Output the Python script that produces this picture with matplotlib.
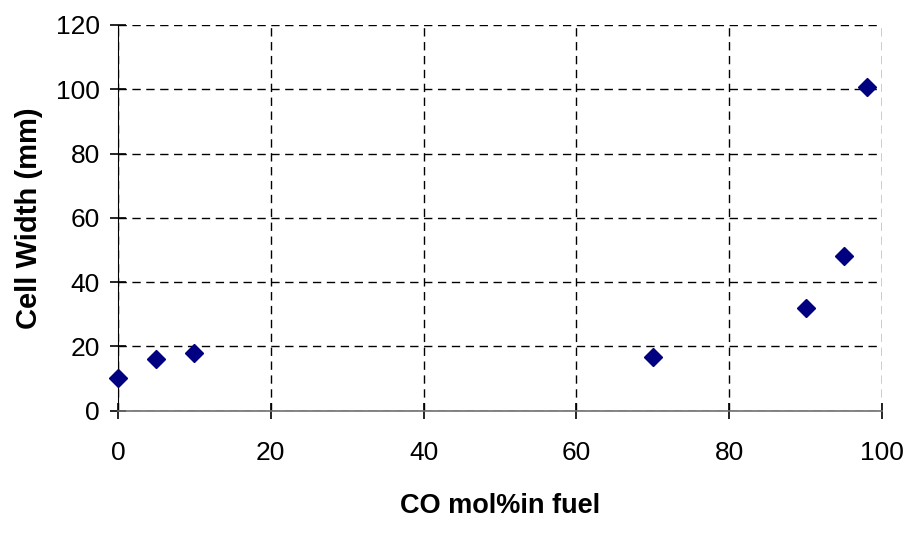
import matplotlib.pyplot as plt

plt.rcParams['font.family'] = ['Liberation Sans', 'DejaVu Sans']

co_mol = [0, 5, 10, 70, 90, 95, 98]
cell_width = [10, 16, 18, 16.7, 32, 48.2, 100.6]
x_ticks = [0, 20, 40, 60, 80, 100]
y_ticks = [0, 20, 40, 60, 80, 100, 120]

fig = plt.figure(figsize=(9.06, 5.5), dpi=100)
ax = fig.add_axes([118 / 906, 1 - 410.5 / 550, 764 / 906, 385.5 / 550])

ax.plot(co_mol, cell_width, linestyle='none', marker='D', markersize=9.5,
        color='#000080', clip_on=False, zorder=5)

ax.set_xlim(0, 100)
ax.set_ylim(0, 120)
ax.set_xticks(x_ticks)
ax.set_yticks(y_ticks)

ax.grid(True, color='black', linestyle=(0, (6, 4)), linewidth=1.0)
ax.set_axisbelow(True)

ax.spines['top'].set_visible(False)
ax.spines['right'].set_visible(False)
ax.spines['left'].set_color('black')
ax.spines['bottom'].set_color('#707070')
ax.spines['bottom'].set_linewidth(1.2)

ax.tick_params(axis='both', direction='inout', length=12, width=1.2,
               labelsize=19, colors='black')
ax.tick_params(axis='y', pad=7)
ax.tick_params(axis='x', pad=16)

ax.set_xlabel('CO mol%in fuel', fontsize=19.5, fontweight='bold', labelpad=20)
ax.set_ylabel('Cell Width (mm)', fontsize=21, fontweight='bold', labelpad=9)

fig.savefig('out.png', dpi=100)
